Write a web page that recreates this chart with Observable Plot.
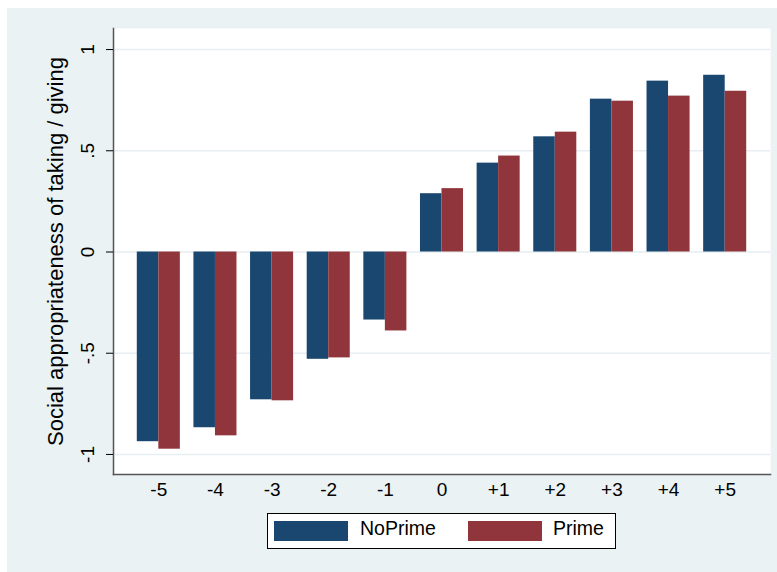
<!DOCTYPE html>
<html><head><meta charset="utf-8">
<script src="https://cdn.jsdelivr.net/npm/d3@7"></script>
<script src="https://cdn.jsdelivr.net/npm/@observablehq/plot@0.6"></script>
<style>
html,body{margin:0;padding:0;width:777px;height:572px;background:#fff;overflow:hidden;font-family:"Liberation Sans",Arial,sans-serif;}
#bg{position:absolute;left:7px;top:8px;width:770px;height:564px;background:#eaf2f3;}
#chart{position:absolute;left:0;top:0;}
#legend{position:absolute;left:267px;top:513px;width:349px;height:36px;background:#fff;border:1px solid #000;box-sizing:border-box;}
.sw{position:absolute;top:7px;width:74px;height:20px;}
.lb{position:absolute;top:3px;font-size:19.5px;line-height:22px;color:#000;}
</style></head>
<body>
<div id="bg"></div>
<div id="chart"></div>
<div id="legend"></div>
<script>
const categories = ["-5","-4","-3","-2","-1","0","+1","+2","+3","+4","+5"];
const noPrime = [-0.937,-0.868,-0.730,-0.530,-0.336,0.288,0.439,0.569,0.755,0.844,0.873];
const prime   = [-0.974,-0.908,-0.735,-0.523,-0.390,0.313,0.474,0.592,0.745,0.770,0.794];
const seriesNames = ["NoPrime","Prime"];
const seriesColors = ["#1a476f","#90353b"];
const yTicks = [-1,-0.5,0,0.5,1];
const yTickLabels = ["-1","-.5","0",".5","1"];
const yTitle = "Social appropriateness of taking / giving";

const rows = categories.map((c,i)=>({cat:c, noprime:noPrime[i], prime:prime[i]}));

const W = 777, H = 505, mL = 113, mR = 7, mT = 28, mB = 31;
const padIn = 0.24, padOut = 0.42;
const bw = d3.scaleBand().domain(categories).range([mL, W - mR]).paddingInner(padIn).paddingOuter(padOut).bandwidth();
const half = bw / 2;

const chart = Plot.plot({
  width: W, height: H,
  marginLeft: mL, marginRight: mR, marginTop: mT, marginBottom: mB,
  style: {background: "transparent", fontFamily: "Liberation Sans, Arial, sans-serif", color: "#000"},
  x: {domain: categories, paddingInner: padIn, paddingOuter: padOut, round: false, label: null, axis: null},
  y: {domain: [-1.099, 1.104], label: null},
  marks: [
    Plot.frame({fill: "#fff", stroke: null}),
    Plot.ruleY(yTicks, {stroke: "#e6eef1", strokeWidth: 1.5}),
    Plot.barY(rows, {x: "cat", y: "noprime", fill: seriesColors[0], insetRight: half}),
    Plot.barY(rows, {x: "cat", y: "prime", fill: seriesColors[1], insetLeft: half}),
    Plot.frame({anchor: "left", stroke: "#555", strokeWidth: 1.5}),
    Plot.frame({anchor: "bottom", stroke: "#555", strokeWidth: 1.5}),
    Plot.axisY(yTicks, {tickFormat: () => "", tickSize: 7, stroke: "#000"}),
    Plot.text(yTicks, {y: d => d, text: d => yTickLabels[yTicks.indexOf(d)], frameAnchor: "left", rotate: -90, dx: -26, textAnchor: "middle", lineAnchor: "middle", fontSize: 19, fill: "#000"}),
    Plot.text(categories, {x: d => d, text: d => d, frameAnchor: "bottom", dy: 15, textAnchor: "middle", lineAnchor: "middle", fontSize: 19, fill: "#000"}),
    Plot.text([yTitle], {frameAnchor: "left", rotate: -90, dx: -58, textAnchor: "middle", lineAnchor: "middle", fontSize: 22, fill: "#000"})
  ]
});
document.getElementById("chart").appendChild(chart);

const leg = document.getElementById("legend");
const swX = [6, 200], lbX = [92, 285];
seriesNames.forEach((n,i)=>{
  const s = document.createElement("div"); s.className = "sw"; s.style.left = swX[i] + "px"; s.style.background = seriesColors[i]; leg.appendChild(s);
  const t = document.createElement("div"); t.className = "lb"; t.style.left = lbX[i] + "px"; t.textContent = n; leg.appendChild(t);
});
</script>
</body></html>
